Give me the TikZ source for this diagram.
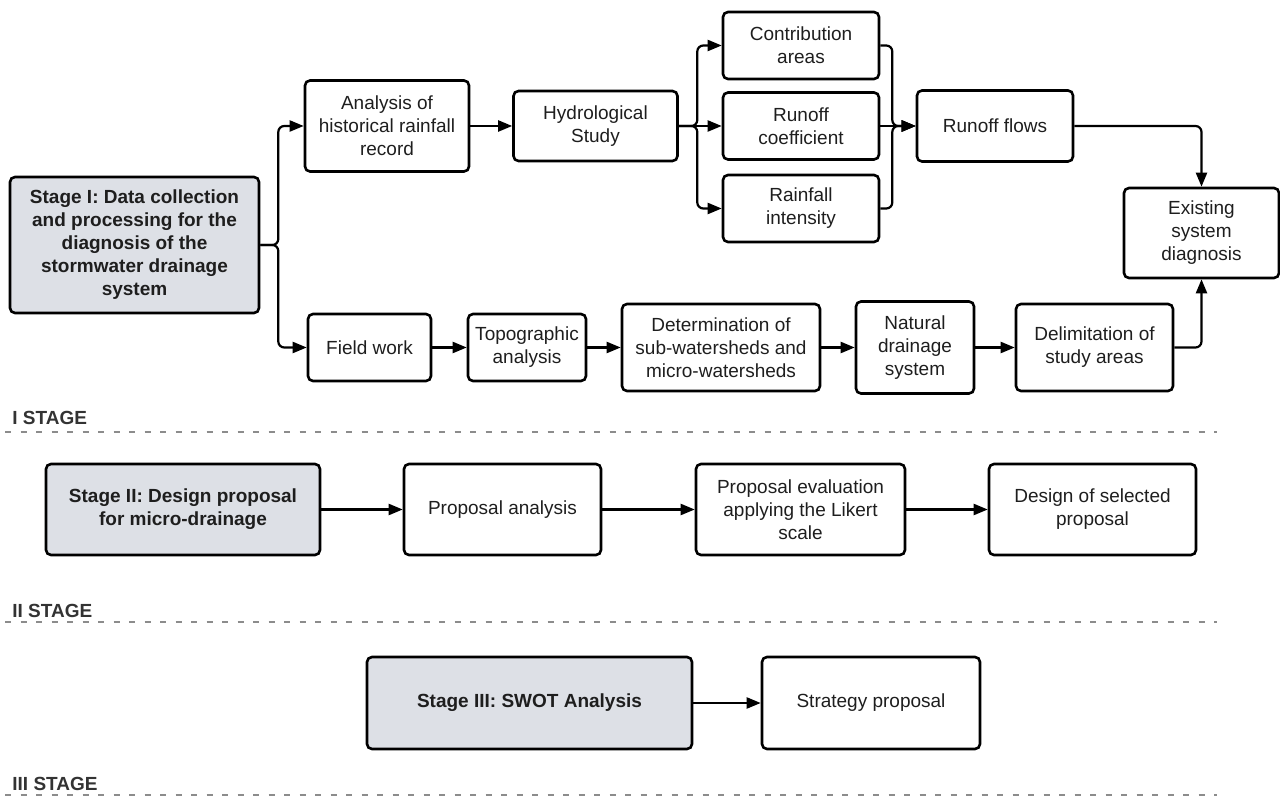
\documentclass[tikz,border=0pt]{standalone}
\usepackage{fontspec}
\setmainfont{Liberation Sans}
\usetikzlibrary{arrows.meta, positioning}
\definecolor{stagegray}{HTML}{DDE0E6}
\definecolor{sepgray}{HTML}{8C8C8C}
\definecolor{txtdark}{HTML}{1E1E1E}

\begin{document}
\begin{tikzpicture}[x=0.5pt, y=-0.5pt, >={Triangle[length=7pt, width=5.5pt]},
        font=\fontsize{9.5}{11.5}\selectfont, text=txtdark,
        box/.style={draw, rectangle, rounded corners=2.5pt, line width=1.3pt, align=center, inner sep=2pt},
        stagebox/.style={box, fill=stagegray, font=\fontsize{9.5}{11.5}\selectfont\bfseries},
        flow/.style={->, line width=1.1pt, rounded corners=3pt},
        sep/.style={draw=sepgray, line width=1.2pt, dash pattern=on 3pt off 4.75pt},
        stagelabel/.style={anchor=base west, inner sep=0pt, text=black!80, font=\fontsize{9.5}{11.5}\selectfont\bfseries}]

        \useasboundingbox (0,0) rectangle (1280,796);

        % Stage I
        \node[stagebox, minimum width=124.5pt, minimum height=68pt] (StageI) at (134.5,245) {Stage I: Data collection\\and processing for the\\diagnosis of the\\stormwater drainage\\system};
        \node[box, minimum width=82pt, minimum height=45.5pt] (Hist) at (387,126) {Analysis of\\historical rainfall\\record};
        \node[box, minimum width=82pt, minimum height=35pt] (Hydro) at (595.5,126) {Hydrological\\Study};
        \node[box, minimum width=78pt, minimum height=33.5pt] (Contrib) at (801,45.5) {Contribution\\areas};
        \node[box, minimum width=78pt, minimum height=33.5pt] (RunCoef) at (801,126) {Runoff\\coefficient};
        \node[box, minimum width=78pt, minimum height=33.5pt] (RainInt) at (801,208.5) {Rainfall\\intensity};
        \node[box, minimum width=78pt, minimum height=35.5pt] (RunFlow) at (995,126) {Runoff flows};
        \node[box, minimum width=77.5pt, minimum height=45pt] (Diag) at (1201.5,233) {Existing\\system\\diagnosis};

        \node[box, minimum width=61.5pt, minimum height=33.5pt] (Field) at (369.5,347.5) {Field work};
        \node[box, minimum width=59pt, minimum height=33.5pt] (Topo) at (527,347.5) {Topographic\\analysis};
        \node[box, minimum width=99pt, minimum height=43.5pt] (Subw) at (721,347.5) {Determination of\\sub-watersheds and\\micro-watersheds};
        \node[box, minimum width=59pt, minimum height=46pt] (NatDr) at (915,347.5) {Natural\\drainage\\system};
        \node[box, minimum width=78.5pt, minimum height=43.5pt] (Delim) at (1094.5,347.5) {Delimitation of\\study areas};

        \draw[flow] (StageI.east) -- ++(18,0) |- (Hist.west);
        \draw[flow] (StageI.east) -- ++(18,0) |- (Field.west);
        \draw[flow] (Hist) -- (Hydro);
        \draw[flow] (Hydro.east) -- ++(18.5,0) |- (Contrib.west);
        \draw[flow] (Hydro.east) -- (RunCoef.west);
        \draw[flow] (Hydro.east) -- ++(18.5,0) |- (RainInt.west);
        \draw[flow] (Contrib.east) -- ++(12,0) |- (RunFlow.west);
        \draw[flow] (RunCoef.east) -- (RunFlow.west);
        \draw[flow] (RainInt.east) -- ++(12,0) |- (RunFlow.west);
        \draw[flow] (RunFlow.east) -| (Diag.north);
        \draw[flow] (Field) -- (Topo);
        \draw[flow] (Topo) -- (Subw);
        \draw[flow] (Subw) -- (NatDr);
        \draw[flow] (NatDr) -- (Delim);
        \draw[flow] (Delim.east) -| (Diag.south);

        \node[stagelabel] (LabI) at (12,425) {I STAGE};
        \draw[sep] (5,432) -- (1217,432);

        % Stage II
        \node[stagebox, minimum width=137pt, minimum height=45.5pt] (StageII) at (183,509.5) {Stage II: Design proposal\\for micro-drainage};
        \node[box, minimum width=98.5pt, minimum height=45.5pt] (PropAn) at (502.5,509.5) {Proposal analysis};
        \node[box, minimum width=104.5pt, minimum height=45.5pt] (PropEv) at (800.5,509.5) {Proposal evaluation\\applying the Likert\\scale};
        \node[box, minimum width=103.5pt, minimum height=45.5pt] (DesSel) at (1092.5,509.5) {Design of selected\\proposal};

        \draw[flow] (StageII) -- (PropAn);
        \draw[flow] (PropAn) -- (PropEv);
        \draw[flow] (PropEv) -- (DesSel);

        \node[stagelabel] (LabII) at (12,617) {II STAGE};
        \draw[sep] (5,622) -- (1217,622);

        % Stage III
        \node[stagebox, minimum width=162.5pt, minimum height=46pt] (StageIII) at (529.5,703) {Stage III: SWOT Analysis};
        \node[box, minimum width=109pt, minimum height=46pt] (Strat) at (871,703) {Strategy proposal};

        \draw[flow] (StageIII) -- (Strat);

        \node[stagelabel] (LabIII) at (12,790) {III STAGE};
        \draw[sep] (5,795) -- (1217,795);
    \end{tikzpicture}
\end{document}
